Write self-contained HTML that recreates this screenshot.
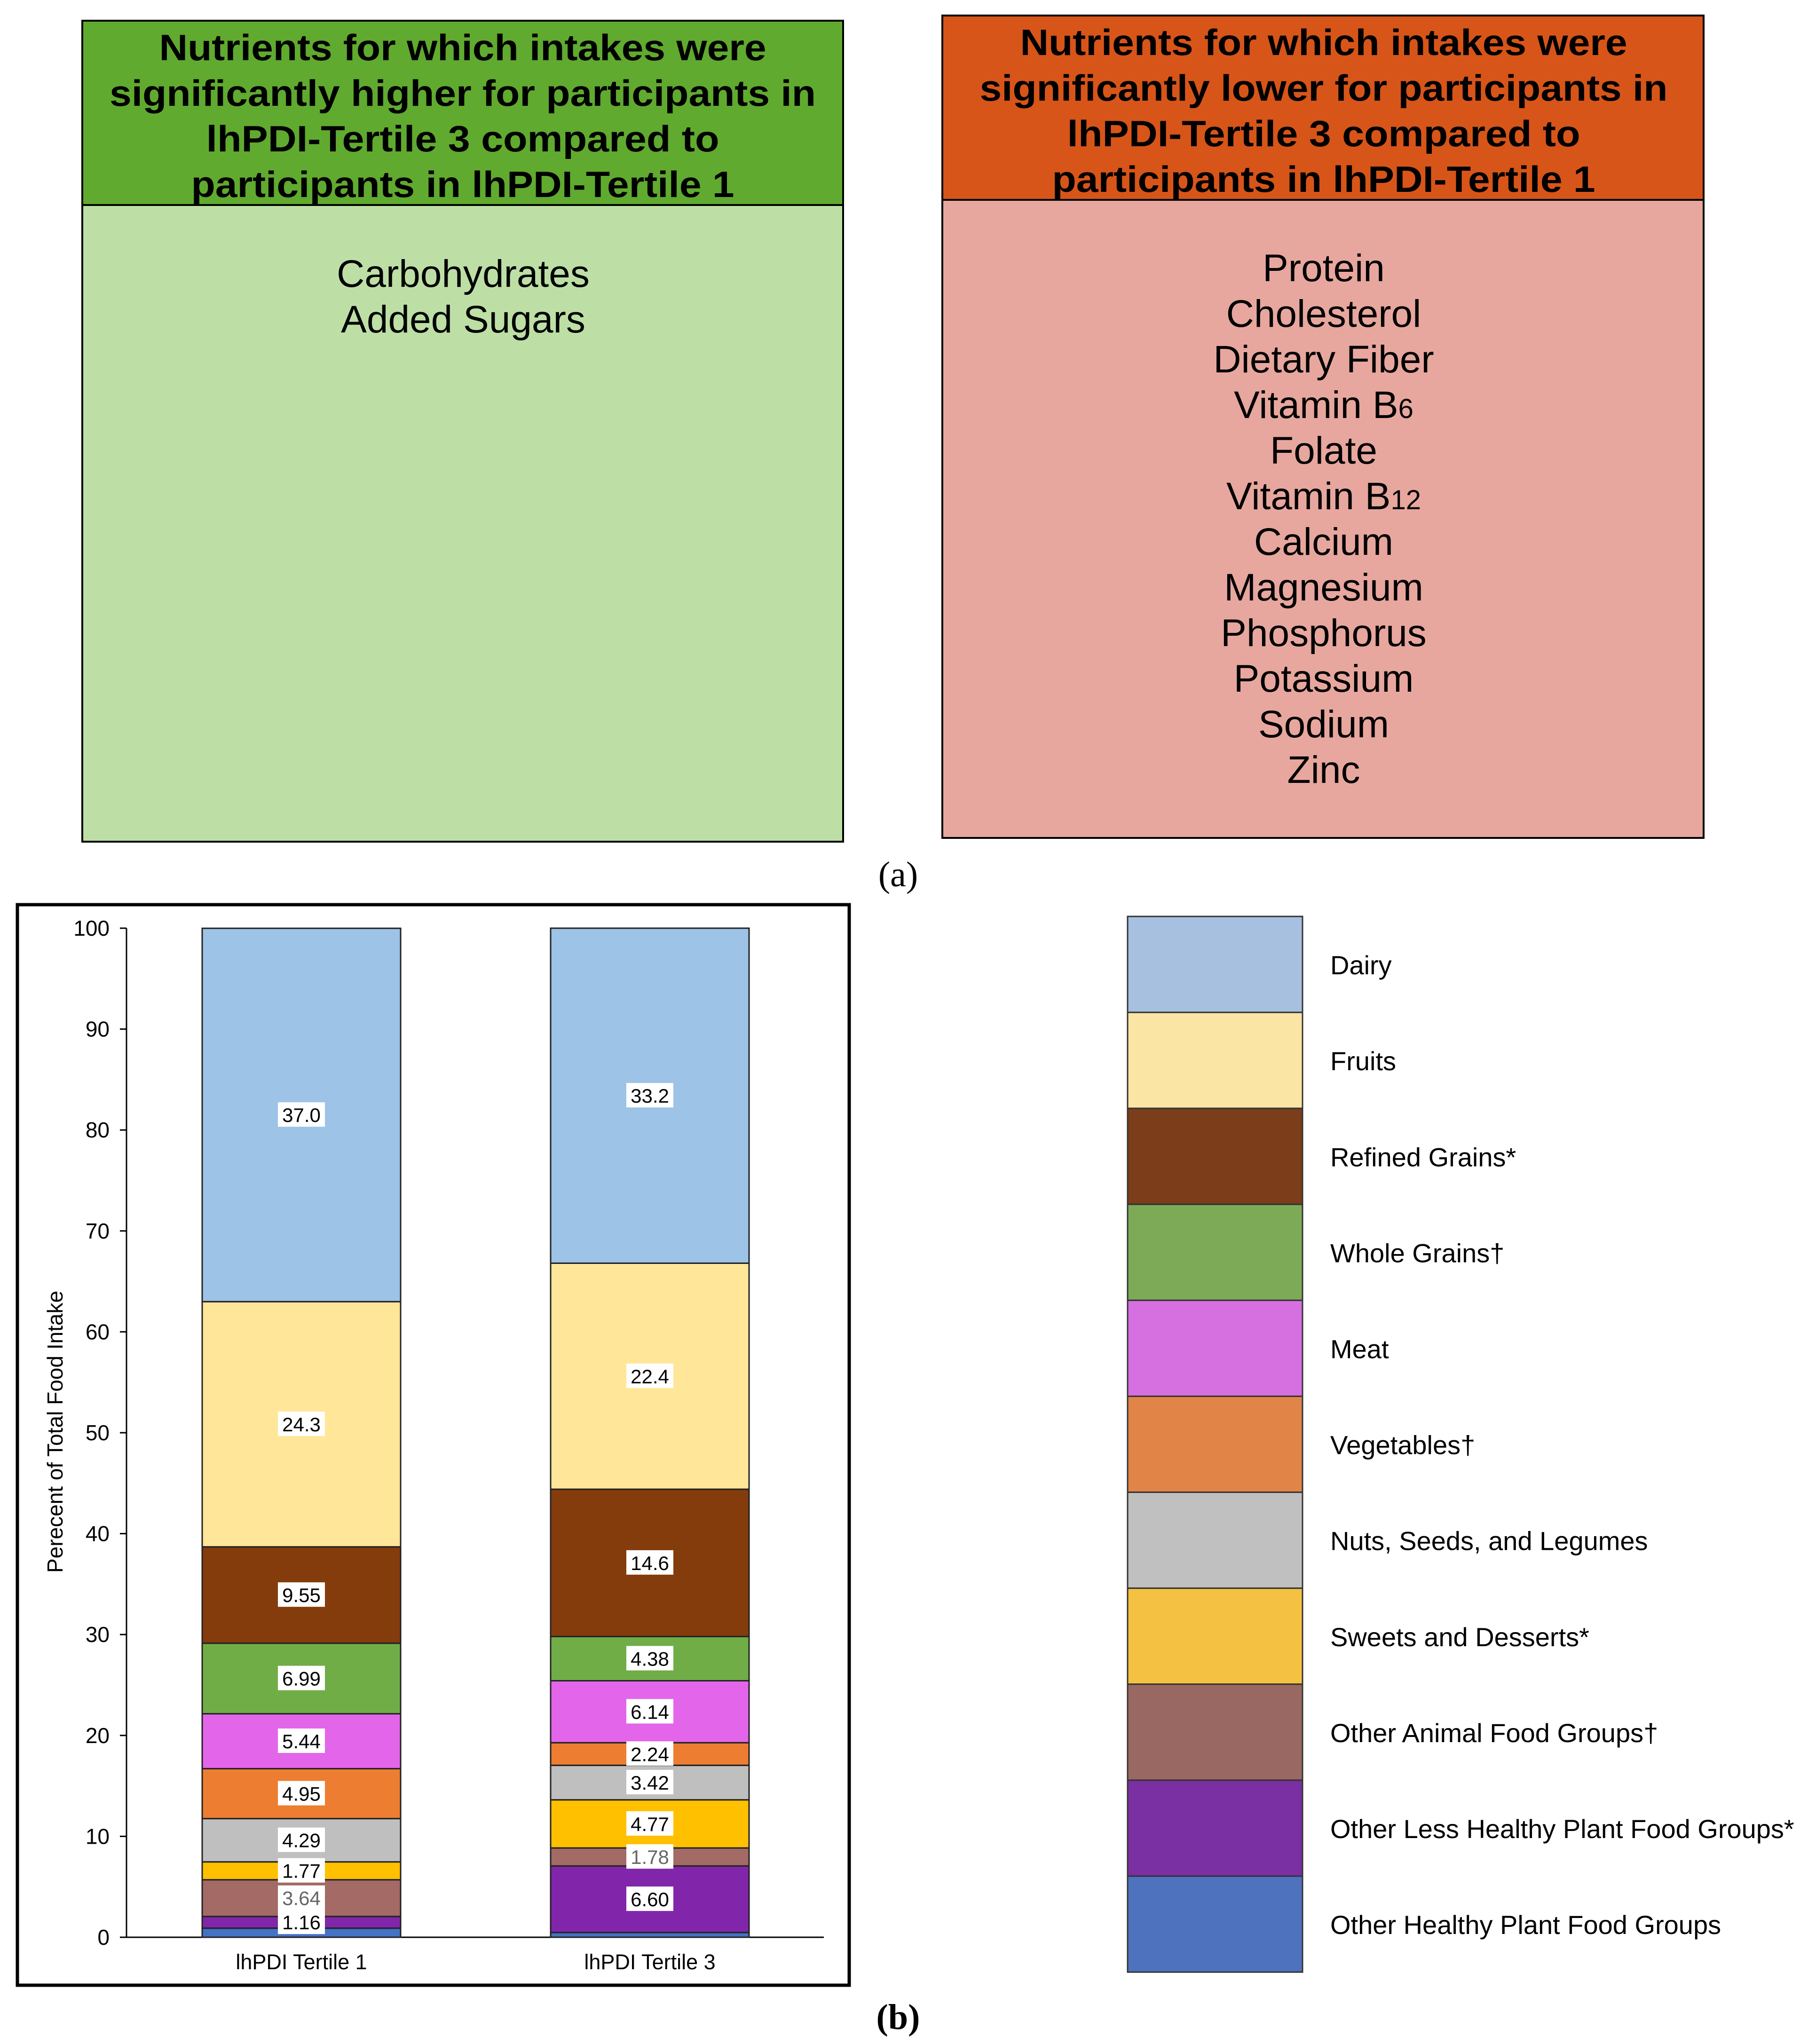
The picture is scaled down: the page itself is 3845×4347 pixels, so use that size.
<!DOCTYPE html>
<html><head><meta charset="utf-8"><style>
html,body{margin:0;padding:0;background:#fff;}
svg{display:block;}
text{font-family:"Liberation Sans",sans-serif;}
</style></head><body>
<svg id="root" width="3845" height="4347" viewBox="0 0 3845 4347" xmlns="http://www.w3.org/2000/svg">
  <g>
    <rect x="175" y="44" width="1618" height="1746" fill="#BDDFA6" stroke="#000" stroke-width="4"/>
    <rect x="175" y="44" width="1618" height="392" fill="#60AA2F" stroke="#000" stroke-width="4"/>
    <g font-weight="bold" font-size="78" text-anchor="middle" fill="#000">
      <text x="984" y="128" textLength="1291" lengthAdjust="spacingAndGlyphs">Nutrients for which intakes were</text>
      <text x="984" y="225" textLength="1502" lengthAdjust="spacingAndGlyphs">significantly higher for participants in</text>
      <text x="984" y="322" textLength="1091" lengthAdjust="spacingAndGlyphs">lhPDI-Tertile 3 compared to</text>
      <text x="984" y="419" textLength="1155" lengthAdjust="spacingAndGlyphs">participants in lhPDI-Tertile 1</text>
    </g>
    <g font-size="82" text-anchor="middle" fill="#000">
      <text x="985" y="610">Carbohydrates</text>
      <text x="985" y="707">Added Sugars</text>
    </g>
  </g>
  <g>
    <rect x="2004" y="33" width="1619" height="1749" fill="#E7A79E" stroke="#000" stroke-width="4"/>
    <rect x="2004" y="33" width="1619" height="392" fill="#D75519" stroke="#000" stroke-width="4"/>
    <g font-weight="bold" font-size="78" text-anchor="middle" fill="#000">
      <text x="2815" y="117" textLength="1291" lengthAdjust="spacingAndGlyphs">Nutrients for which intakes were</text>
      <text x="2815" y="214" textLength="1463" lengthAdjust="spacingAndGlyphs">significantly lower for participants in</text>
      <text x="2815" y="311" textLength="1091" lengthAdjust="spacingAndGlyphs">lhPDI-Tertile 3 compared to</text>
      <text x="2815" y="408" textLength="1155" lengthAdjust="spacingAndGlyphs">participants in lhPDI-Tertile 1</text>
    </g>
    <g font-size="82" text-anchor="middle" fill="#000">
      <text x="2815" y="598">Protein</text>
      <text x="2815" y="695">Cholesterol</text>
      <text x="2815" y="792">Dietary Fiber</text>
      <text x="2815" y="889">Vitamin B<tspan font-size="58">6</tspan></text>
      <text x="2815" y="986">Folate</text>
      <text x="2815" y="1083">Vitamin B<tspan font-size="58">12</tspan></text>
      <text x="2815" y="1180">Calcium</text>
      <text x="2815" y="1277">Magnesium</text>
      <text x="2815" y="1374">Phosphorus</text>
      <text x="2815" y="1471">Potassium</text>
      <text x="2815" y="1568">Sodium</text>
      <text x="2815" y="1665">Zinc</text>
    </g>
  </g>
  <text x="1910" y="1885" font-size="76" text-anchor="middle" style="font-family:'Liberation Serif',serif">(a)</text>
  <text x="1910" y="4315" font-size="76" font-weight="bold" text-anchor="middle" style="font-family:'Liberation Serif',serif">(b)</text>

  <rect x="37" y="1924" width="1769" height="2298" fill="#fff" stroke="#000" stroke-width="7"/>
  <g id="chart"></g>
  <g id="legend"></g>
</svg>
<script>
const groups = ["lhPDI Tertile 1", "lhPDI Tertile 3"];
const categories = ["Other Healthy Plant Food Groups", "Other Less Healthy Plant Food Groups*", "Other Animal Food Groups†", "Sweets and Desserts*", "Nuts, Seeds, and Legumes", "Vegetables†", "Meat", "Whole Grains†", "Refined Grains*", "Fruits", "Dairy"];
const tertile1 = [0.9, 1.16, 3.64, 1.77, 4.29, 4.95, 5.44, 6.99, 9.55, 24.3, 37.0];
const tertile3 = [0.47, 6.60, 1.78, 4.77, 3.42, 2.24, 6.14, 4.38, 14.6, 22.4, 33.2];
const tertile1Labels = ["", "1.16", "3.64", "1.77", "4.29", "4.95", "5.44", "6.99", "9.55", "24.3", "37.0"];
const tertile3Labels = ["", "6.60", "1.78", "4.77", "3.42", "2.24", "6.14", "4.38", "14.6", "22.4", "33.2"];
const yTicks = [0, 10, 20, 30, 40, 50, 60, 70, 80, 90, 100];

const NS = "http://www.w3.org/2000/svg";
const barColors = ["#4472C4", "#8126AA", "#A36A66", "#FFC000", "#BFBFBF", "#ED7D31", "#E366EA", "#70AD47", "#843C0C", "#FFE699", "#9DC3E6"];
const legendColors = ["#4F72BE", "#7A2FA2", "#9A6862", "#F4C142", "#C0C0C0", "#E08448", "#D66FE0", "#7DAA57", "#7B3D1A", "#FBE5A4", "#A7C0E0"];
const grayLabelIdx = {"3.64": 1, "1.78": 1};
const Y0 = 4120, Y100 = 1974, AX = 269, AXR = 1752;
function y(v) { return Y0 + (Y100 - Y0) * v / 100; }
const barX = [430, 1171], barW = 422;
function mk(tag, attrs, parent) { const e = document.createElementNS(NS, tag); for (const k in attrs) e.setAttribute(k, attrs[k]); parent.appendChild(e); return e; }
const chart = document.getElementById("chart");

const ya = mk("line", {x1: AX, y1: Y100, x2: AX, y2: Y0, stroke: "#000", "stroke-width": 3}, chart);


const xa = mk("line", {x1: AX, y1: Y0, x2: AXR, y2: Y0, stroke: "#000", "stroke-width": 3}, chart);


yTicks.forEach(t => {
  const tk = mk("line", {x1: AX - 14, y1: y(t), x2: AX, y2: y(t), stroke: "#000", "stroke-width": 3}, chart);
  
  
  const tl = mk("text", {x: AX - 36, y: y(t) + 16, "font-size": 46, "text-anchor": "end"}, chart);
  tl.textContent = t;
  
  
});
const yt = mk("text", {x: 0, y: 0, "font-size": 46, "text-anchor": "middle", transform: "translate(133,3045) rotate(-90)"}, chart);
yt.textContent = "Perecent of  Total Food Intake";



[tertile1, tertile3].forEach((vals, gi) => {
  const labels = gi === 0 ? tertile1Labels : tertile3Labels;
  let cum = 0;
  const segs = [];
  vals.forEach((v, i) => {
    const top = y(cum + v), bot = y(cum);
    const r = mk("rect", {x: barX[gi], y: top, width: barW, height: bot - top, fill: barColors[i], stroke: "#222", "stroke-width": 3}, chart);
    
    
    segs.push([cum + v / 2, labels[i]]);
    cum += v;
  });
  segs.forEach(([mid, lab]) => {
    if (!lab) return;
    const cx = barX[gi] + barW / 2, cy = y(mid);
    const bg = mk("rect", {x: cx - 50, y: cy - 27, width: 100, height: 52, fill: "#fff"}, chart);
    
    
    const t = mk("text", {x: cx, y: cy + 15, "font-size": 42, "text-anchor": "middle", fill: grayLabelIdx[lab] ? "#666" : "#000"}, chart);
    t.textContent = lab;
    
    
  });
  const xl = mk("text", {x: barX[gi] + barW / 2, y: 4188, "font-size": 45, "text-anchor": "middle"}, chart);
  xl.textContent = groups[gi];
  
  
});

const legend = document.getElementById("legend");
const LX = 2398, LY = 1949, LH = 204.1, LW = 372;
for (let k = 0; k < categories.length; k++) {
  const i = categories.length - 1 - k;
  const sw = mk("rect", {x: LX, y: LY + k * LH, width: LW, height: LH, fill: legendColors[i], stroke: "#333", "stroke-width": 3}, legend);
  
  
  const lt = mk("text", {x: 2829, y: LY + k * LH + LH / 2 + 21, "font-size": 56}, legend);
  lt.textContent = categories[i];
  
  
}
</script>
</body></html>
